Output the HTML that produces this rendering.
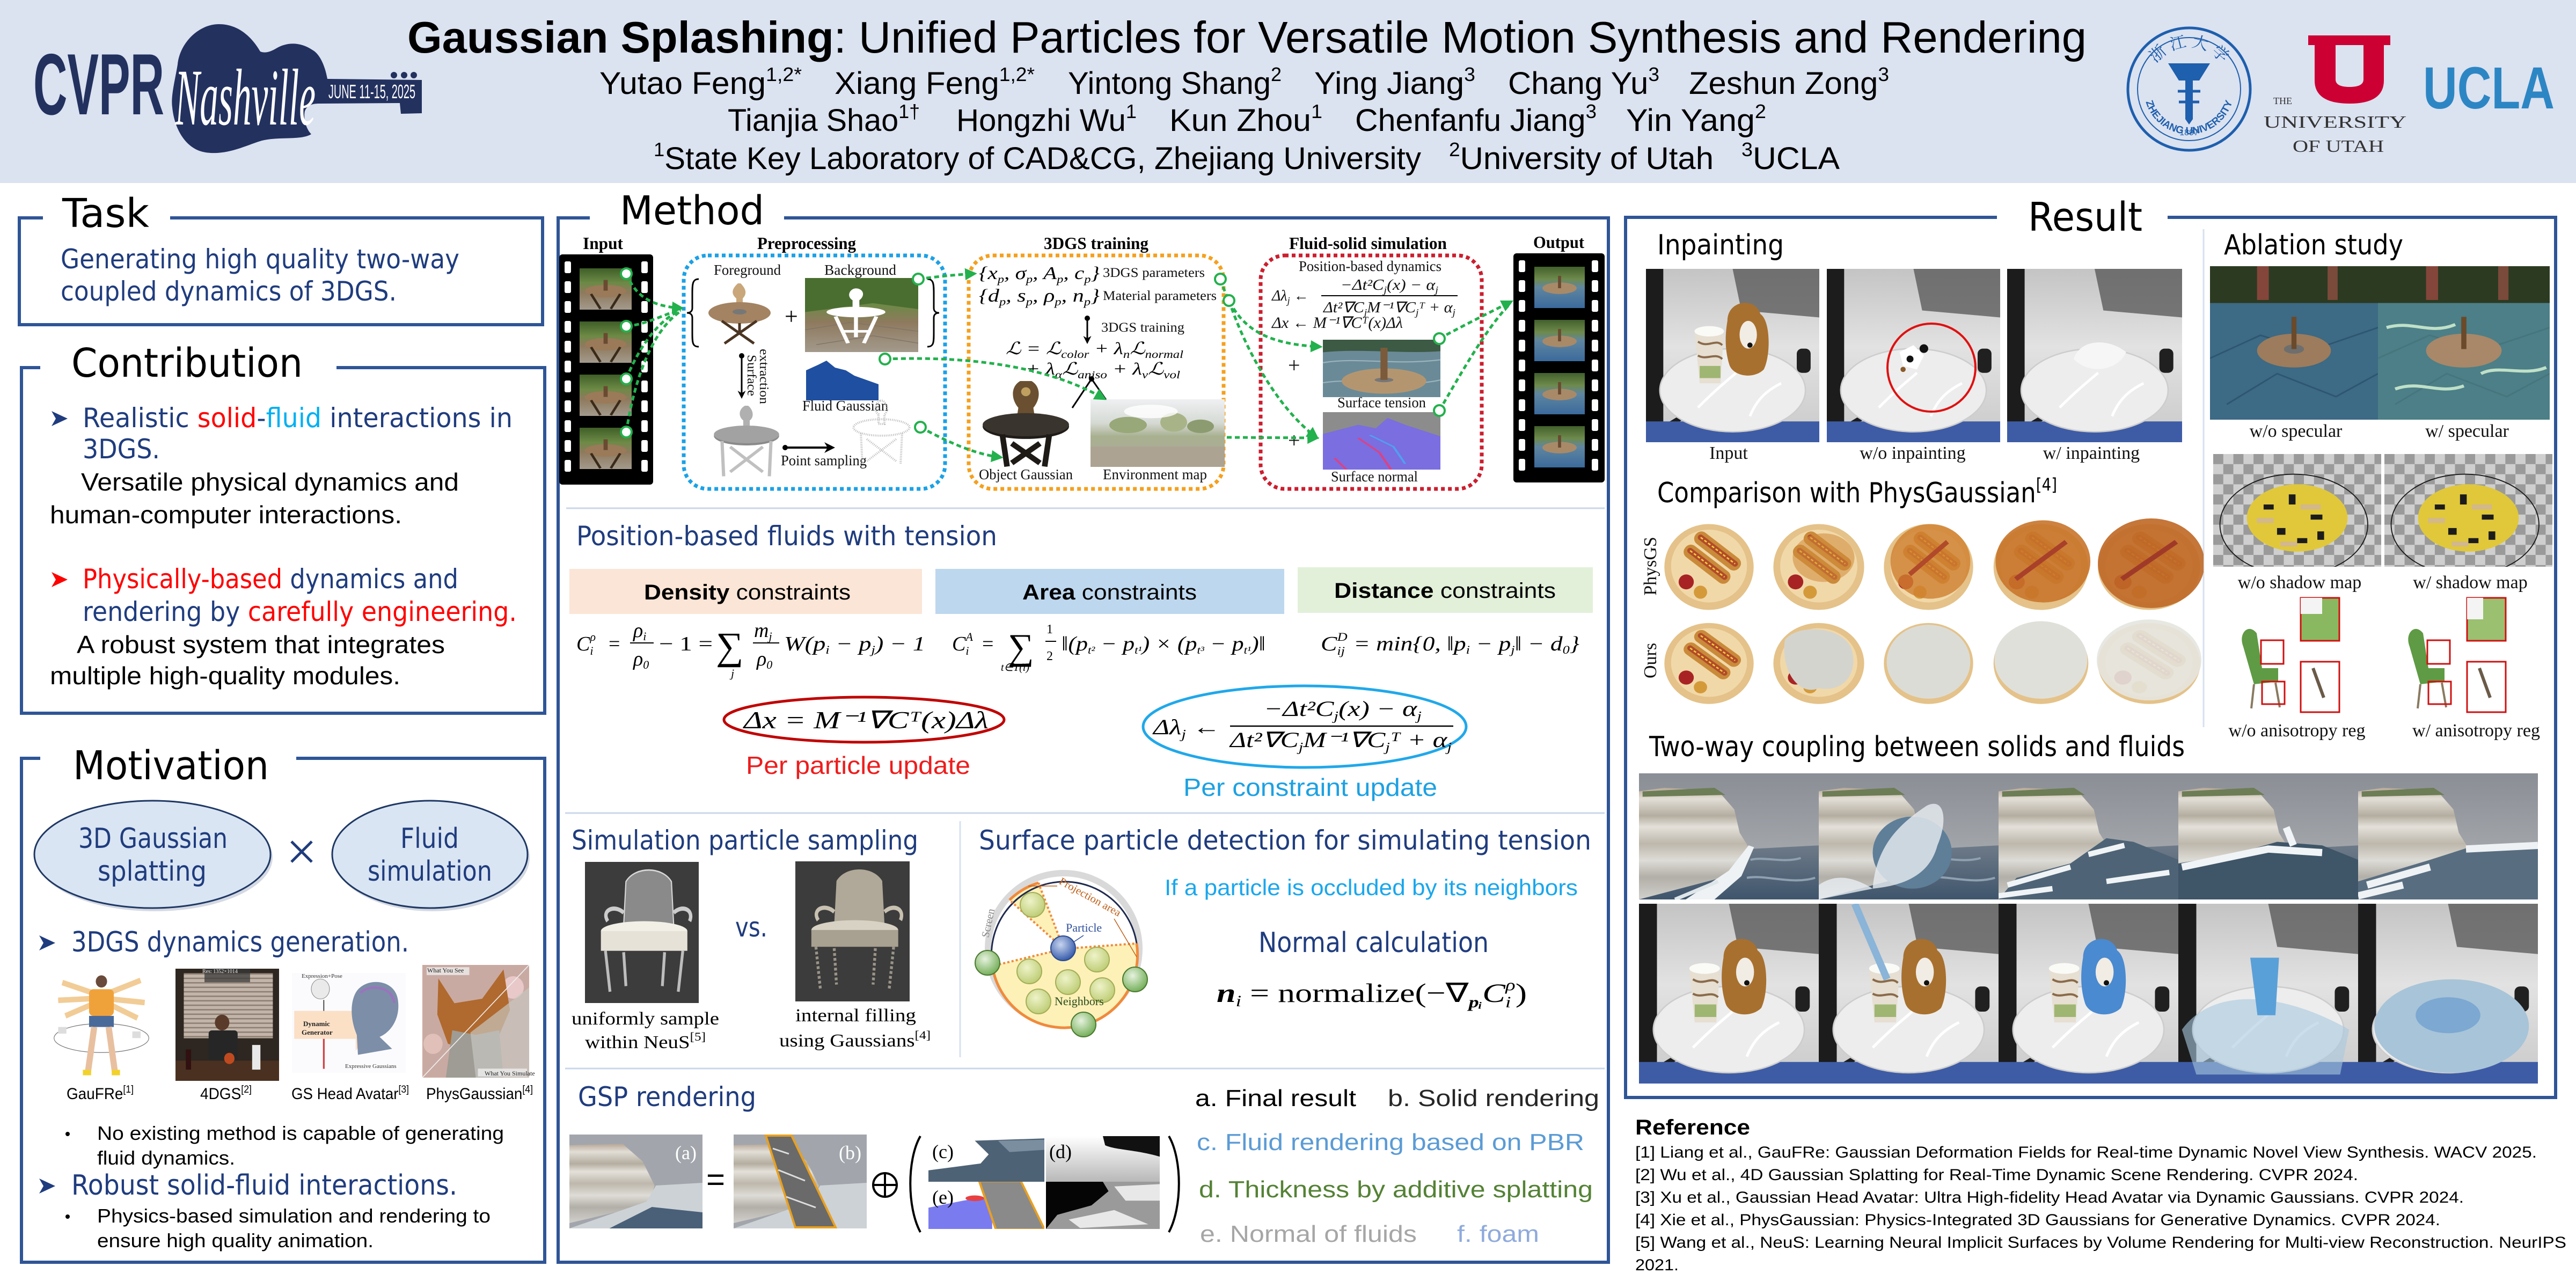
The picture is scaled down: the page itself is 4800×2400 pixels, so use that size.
<!DOCTYPE html>
<html><head><meta charset="utf-8">
<style>
html,body{margin:0;padding:0;background:#fff;width:4800px;height:2400px;overflow:hidden}
svg{display:block}
.c{font-family:"DejaVu Sans","Liberation Sans",sans-serif}
.s{font-family:"Liberation Sans",Arial,sans-serif}
.r{font-family:"Liberation Serif","Times New Roman",serif}
.i{font-style:italic}
.n{fill:#1f3c7e}
</style></head><body>
<svg xmlns="http://www.w3.org/2000/svg" xmlns:xlink="http://www.w3.org/1999/xlink" width="4800" height="2400" viewBox="0 0 4800 2400">
<defs>
<linearGradient id="gGarden" x1="0" y1="0" x2="0" y2="1"><stop offset="0" stop-color="#3f5e28"/><stop offset=".35" stop-color="#6c8a45"/><stop offset=".6" stop-color="#8e7a5e"/><stop offset="1" stop-color="#a39a8c"/></linearGradient>
<linearGradient id="gGardenW" x1="0" y1="0" x2="0" y2="1"><stop offset="0" stop-color="#42602c"/><stop offset=".3" stop-color="#6e8a4c"/><stop offset=".5" stop-color="#5f86a0"/><stop offset="1" stop-color="#3b6a9c"/></linearGradient>
<linearGradient id="gSky" x1="0" y1="0" x2="0" y2="1"><stop offset="0" stop-color="#8a8e95"/><stop offset="1" stop-color="#b2b4b7"/></linearGradient>
<linearGradient id="gCliff" x1="0" y1="0" x2="0" y2="1"><stop offset="0" stop-color="#b8a898"/><stop offset=".1" stop-color="#e2ded6"/><stop offset=".25" stop-color="#b4ada0"/><stop offset=".35" stop-color="#e4e1da"/><stop offset=".5" stop-color="#bdb7ac"/><stop offset=".65" stop-color="#dedcd6"/><stop offset=".8" stop-color="#b2afa8"/><stop offset="1" stop-color="#d2d0cc"/></linearGradient>
<linearGradient id="gWater" x1="0" y1="0" x2="0" y2="1"><stop offset="0" stop-color="#6e7a88"/><stop offset="1" stop-color="#3f556c"/></linearGradient>
<linearGradient id="gRoom" x1="0" y1="0" x2="0" y2="1"><stop offset="0" stop-color="#c4c4c4"/><stop offset=".45" stop-color="#e2e2e2"/><stop offset="1" stop-color="#c9c9c9"/></linearGradient>
<linearGradient id="gEnv" x1="0" y1="0" x2="0" y2="1"><stop offset="0" stop-color="#eef0f2"/><stop offset=".35" stop-color="#d6dad4"/><stop offset=".55" stop-color="#a8b090"/><stop offset="1" stop-color="#b0aa9c"/></linearGradient>
<linearGradient id="gThick" x1="0" y1="0" x2="0" y2="1"><stop offset="0" stop-color="#fff"/><stop offset="1" stop-color="#b8b8b8"/></linearGradient>
<radialGradient id="gPart" cx=".4" cy=".35" r=".7"><stop offset="0" stop-color="#c8d4ee"/><stop offset="1" stop-color="#2e55a8"/></radialGradient>
<radialGradient id="gNb" cx=".4" cy=".35" r=".7"><stop offset="0" stop-color="#eef3c8"/><stop offset="1" stop-color="#bccb72"/></radialGradient>
<radialGradient id="gNbo" cx=".4" cy=".35" r=".7"><stop offset="0" stop-color="#e6f2de"/><stop offset="1" stop-color="#6eab52"/></radialGradient>
<pattern id="pHoleI" x="1052" y="487" width="143" height="37" patternUnits="userSpaceOnUse"><rect width="12" height="22" rx="3" fill="#fff"/></pattern>
<pattern id="pHoleO" x="2830" y="485" width="136" height="37" patternUnits="userSpaceOnUse"><rect width="12" height="22" rx="3" fill="#fff"/></pattern>
<pattern id="pChk" width="12" height="12" patternUnits="userSpaceOnUse"><rect width="12" height="12" fill="#cfcfcf"/><rect width="6" height="6" fill="#9a9a9a"/><rect x="6" y="6" width="6" height="6" fill="#9a9a9a"/></pattern>
<pattern id="pBlind" width="10" height="4" patternUnits="userSpaceOnUse"><rect width="10" height="4" fill="#c2b4a8"/><rect width="10" height="1.2" fill="#8c7e72"/></pattern>
<marker id="mG" viewBox="0 0 10 10" refX="7" refY="5" markerWidth="4.5" markerHeight="4.5" orient="auto"><path d="M0,0 L10,5 L0,10 Z" fill="#23b14d"/></marker>
<marker id="mK" viewBox="0 0 10 10" refX="8" refY="5" markerWidth="5" markerHeight="5" orient="auto"><path d="M0,0 L10,5 L0,10 L3,5 Z" fill="#000"/></marker>

<g id="frI">
<rect width="100" height="100" fill="url(#gGarden)"/>
<ellipse cx="50" cy="55" rx="40" ry="15" fill="#9a7a58"/>
<rect x="46" y="28" width="8" height="26" fill="#6a4a30"/>
<path d="M22,62 L40,98 M78,62 L60,98" stroke="#3a2a1a" stroke-width="5"/>
</g>
<g id="frO">
<rect width="100" height="100" fill="url(#gGardenW)"/>
<ellipse cx="50" cy="52" rx="34" ry="14" fill="#a88a68"/>
<rect x="47" y="22" width="6" height="30" fill="#6a4a30"/>
</g>
<g id="cliff">
<rect width="100" height="70" fill="url(#gSky)"/>
<path d="M0,10 L14,8 L32,9 L46,12 L53,20 L56,33 L61,41 L57,55 L0,70 Z" fill="url(#gCliff)"/>
<path d="M2,10 L42,8 L48,12 L2,13Z" fill="#6d7d55"/>
<path d="M0,70 L57,55 L61,42 L100,40 L100,70Z" fill="url(#gWater)"/>
<path d="M62,48 C70,46 80,50 90,47 M60,58 C70,56 85,62 98,58" stroke="#8fa0b0" stroke-width="1.2" fill="none"/>
</g>
<g id="tbl">
<rect width="100" height="100" fill="url(#gRoom)"/>
<path d="M50,0 L100,0 L100,28 L55,24Z" fill="#4c4c4c" opacity=".7"/>
<rect x="0" y="0" width="10" height="100" fill="#1c1c1c"/>
<path d="M10,92 L40,74" stroke="#1c1c1c" stroke-width="3"/>
<rect x="0" y="88" width="100" height="12" fill="#3e5ca6"/>
<ellipse cx="50" cy="70" rx="42" ry="24" fill="#ededed" stroke="#cdcdcd" stroke-width=".8"/>
<path d="M30,80 C40,70 45,66 52,60 M60,85 C64,75 70,70 78,66" stroke="#fff" stroke-width="1.5" fill="none"/>
<rect x="87" y="46" width="8" height="14" rx="3" fill="#202020"/>
</g>
<g id="cup"><path d="M28,36 L45,36 L43,66 L31,66Z" fill="#e6dfd2"/><path d="M30,42 C36,46 40,40 44,44 M30,50 C35,53 40,48 44,52" stroke="#8a6a4a" stroke-width="1.2" fill="none"/><path d="M31,56 L43,56 L43,63 L31,63Z" fill="#9fb672"/><ellipse cx="36.5" cy="36" rx="8.5" ry="3" fill="#fafaf6"/></g>
<g id="dog"><path d="M47,30 C47,18 63,16 66,26 C72,30 72,50 68,58 C62,64 50,62 48,55 C45,45 46,36 47,30Z"/><ellipse cx="59" cy="38" rx="5" ry="8" fill="#f1ece4"/><circle cx="60" cy="44" r="1.5" fill="#111"/></g>
<g id="plate">
<ellipse cx="50" cy="52" rx="47" ry="46" fill="#e4c289"/>
<ellipse cx="50" cy="51" rx="40" ry="39" fill="#f1d8a8"/>
<g transform="rotate(38 55 40)"><rect x="26" y="26" width="58" height="15" rx="7" fill="#c98a3a"/><rect x="26" y="44" width="58" height="15" rx="7" fill="#c98a3a"/><rect x="29" y="30" width="52" height="6" rx="3" fill="#b24a2a"/><rect x="29" y="48" width="52" height="6" rx="3" fill="#b24a2a"/><path d="M32,33 L78,33 M32,51 L78,51" stroke="#f2d23a" stroke-width="1.5" stroke-dasharray="3 2"/></g>
<circle cx="26" cy="68" r="8" fill="#a82424"/><circle cx="41" cy="79" r="7" fill="#d49a3a"/>
</g>
<g id="abl">
<rect width="100" height="100" fill="#3d6a85"/>
<rect width="100" height="24" fill="#2c3a22"/>
<rect x="28" y="0" width="7" height="22" fill="#84463a"/><rect x="70" y="0" width="6" height="22" fill="#7a4a3a"/>
<path d="M0,60 L30,45 L60,55 L100,40 M10,90 L40,70 L75,85 L100,70" stroke="#2f5670" stroke-width="1" fill="none"/>
<ellipse cx="50" cy="55" rx="22" ry="11" fill="#9c7c5c"/>
<ellipse cx="50" cy="54" rx="6" ry="3" fill="#6e6e6e"/>
<rect x="48.5" y="33" width="3" height="21" fill="#6a4a2a"/>
</g>
<g id="shd">
<rect width="100" height="67" fill="url(#pChk)"/>
<ellipse cx="48" cy="42" rx="44" ry="30" fill="none" stroke="#1a1a1a" stroke-width=".6"/>
<ellipse cx="50" cy="38" rx="30" ry="20" fill="#e0c83a"/>
<g fill="#1c1c1c"><rect x="30" y="30" width="6" height="3"/><rect x="45" y="24" width="4" height="6"/><rect x="58" y="36" width="7" height="3"/><rect x="38" y="44" width="5" height="4"/><rect x="62" y="46" width="4" height="5"/><rect x="50" y="50" width="6" height="3"/></g>
<g fill="#d2b88a"><rect x="26" y="38" width="10" height="3"/><rect x="52" y="30" width="12" height="3"/><rect x="40" y="52" width="10" height="3"/></g>
</g>
</defs>

<!-- HEADER -->
<rect width="4800" height="341" fill="#dbe2f0"/>
<text x="62" y="213" class="s" font-weight="bold" font-size="162" fill="#23315f" textLength="244" lengthAdjust="spacingAndGlyphs">CVPR</text>
<path d="M408,45 C370,45 335,80 331,120 C326,150 318,180 321,200 C325,240 345,275 378,283 C420,292 460,270 488,262 C520,254 560,262 580,250 C570,240 565,220 568,207 C572,197 580,193 595,193 L745,192 L747,212 L786,211 L786,149 L610,147 C605,120 595,100 582,93 C560,78 535,78 515,90 C505,96 495,100 485,96 C470,70 445,45 408,45 Z" fill="#23315f"/>
<circle cx="734" cy="140" r="6" fill="#23315f"/><circle cx="753" cy="140" r="6" fill="#23315f"/><circle cx="771" cy="140" r="6" fill="#23315f"/>
<text x="326" y="232" class="r i" font-size="150" fill="#fff" textLength="262" lengthAdjust="spacingAndGlyphs">Nashville</text>
<text x="612" y="183" class="s" font-size="36" fill="#fff" textLength="162" lengthAdjust="spacingAndGlyphs">JUNE 11-15, 2025</text>

<text x="759" y="98" class="s" font-size="83" textLength="3129" lengthAdjust="spacingAndGlyphs"><tspan font-weight="bold">Gaussian Splashing</tspan>: Unified Particles for Versatile Motion Synthesis and Rendering</text>

<g class="s" font-size="58">
<text x="1117" y="175" textLength="377" lengthAdjust="spacingAndGlyphs">Yutao Feng<tspan font-size="36" dy="-24">1,2*</tspan></text>
<text x="1555" y="175" textLength="373" lengthAdjust="spacingAndGlyphs">Xiang Feng<tspan font-size="36" dy="-24">1,2*</tspan></text>
<text x="1990" y="175" textLength="398" lengthAdjust="spacingAndGlyphs">Yintong Shang<tspan font-size="36" dy="-24">2</tspan></text>
<text x="2449" y="175" textLength="300" lengthAdjust="spacingAndGlyphs">Ying Jiang<tspan font-size="36" dy="-24">3</tspan></text>
<text x="2810" y="175" textLength="282" lengthAdjust="spacingAndGlyphs">Chang Yu<tspan font-size="36" dy="-24">3</tspan></text>
<text x="3147" y="175" textLength="373" lengthAdjust="spacingAndGlyphs">Zeshun Zong<tspan font-size="36" dy="-24">3</tspan></text>
<text x="1356" y="244" textLength="358" lengthAdjust="spacingAndGlyphs">Tianjia Shao<tspan font-size="36" dy="-24">1†</tspan></text>
<text x="1782" y="244" textLength="336" lengthAdjust="spacingAndGlyphs">Hongzhi Wu<tspan font-size="36" dy="-24">1</tspan></text>
<text x="2179" y="244" textLength="285" lengthAdjust="spacingAndGlyphs">Kun Zhou<tspan font-size="36" dy="-24">1</tspan></text>
<text x="2525" y="244" textLength="450" lengthAdjust="spacingAndGlyphs">Chenfanfu Jiang<tspan font-size="36" dy="-24">3</tspan></text>
<text x="3030" y="244" textLength="261" lengthAdjust="spacingAndGlyphs">Yin Yang<tspan font-size="36" dy="-24">2</tspan></text>
<text x="1218" y="315" textLength="1430" lengthAdjust="spacingAndGlyphs"><tspan font-size="36" dy="-24">1</tspan><tspan dy="24">State Key Laboratory of CAD&amp;CG, Zhejiang University</tspan></text>
<text x="2700" y="315" textLength="493" lengthAdjust="spacingAndGlyphs"><tspan font-size="36" dy="-24">2</tspan><tspan dy="24">University of Utah</tspan></text>
<text x="3245" y="315" textLength="183" lengthAdjust="spacingAndGlyphs"><tspan font-size="36" dy="-24">3</tspan><tspan dy="24">UCLA</tspan></text>
</g>

<!-- ZJU seal -->
<circle cx="4079" cy="166" r="114" fill="none" stroke="#1e5fae" stroke-width="5"/>
<circle cx="4079" cy="166" r="96" fill="none" stroke="#1e5fae" stroke-width="2"/>
<path id="zjuB" d="M3995,166 A84,84 0 0 0 4163,166" fill="none"/>
<path id="zjuT" d="M4001,166 A78,78 0 0 1 4157,166" fill="none"/>
<text class="s" font-size="19" font-weight="bold" fill="#1e5fae"><textPath href="#zjuB" startOffset="50%" text-anchor="middle">ZHEJIANG UNIVERSITY</textPath></text>
<text font-family="'Noto Serif CJK SC','Noto Sans CJK SC',serif" font-size="30" fill="#1e5fae"><textPath href="#zjuT" startOffset="50%" text-anchor="middle">浙 江 大 学</textPath></text>
<path d="M4040,118 L4118,118 L4098,150 L4086,150 L4086,222 L4079,232 L4072,222 L4072,150 L4060,150 Z" fill="#1e5fae"/>
<path d="M4058,170 L4100,170 M4060,190 L4098,190" stroke="#1e5fae" stroke-width="5"/>
<text x="4079" y="252" class="s" font-size="16" fill="#1e5fae" text-anchor="middle">1897</text>

<!-- Utah -->
<path d="M4301,66 H4454 V84 H4442 V150 Q4442,193 4378,193 Q4313,193 4313,150 V84 H4301 Z M4352,84 V148 Q4352,162 4378,162 Q4404,162 4404,148 V84 Z" fill="#cc0033" fill-rule="evenodd"/>
<text x="4236" y="194" class="r" font-size="18" fill="#333">THE</text>
<text x="4218" y="238" class="r" font-size="32" fill="#333" textLength="266" lengthAdjust="spacingAndGlyphs">UNIVERSITY</text>
<text x="4272" y="283" class="r" font-size="32" fill="#333" textLength="170" lengthAdjust="spacingAndGlyphs">OF UTAH</text>
<text x="4515" y="202" class="s" font-size="110" font-weight="bold" fill="#2d86c4" textLength="245" lengthAdjust="spacingAndGlyphs">UCLA</text>

<!-- PANEL BORDERS -->
<g fill="none" stroke="#2f5597" stroke-width="6">
<path d="M317,406 H1011 V605 H36 V406 H80"/>
<path d="M627,685 H1015 V1329 H40 V685 H75"/>
<path d="M552,1413 H1015 V2352 H40 V1413 H75"/>
<path d="M1461,406 H2997 V2352 H1040 V406 H1099"/>
<path d="M4039,405 H4762 V2045 H3029 V405 H3721"/>
</g>
<g class="c" font-size="74" fill="#000">
<text x="116" y="423" textLength="162" lengthAdjust="spacingAndGlyphs">Task</text>
<text x="133" y="702" textLength="431" lengthAdjust="spacingAndGlyphs">Contribution</text>
<text x="136" y="1452" textLength="365" lengthAdjust="spacingAndGlyphs">Motivation</text>
<text x="1155" y="418" textLength="269" lengthAdjust="spacingAndGlyphs">Method</text>
<text x="3779" y="430" textLength="213" lengthAdjust="spacingAndGlyphs">Result</text>
</g>

<!-- TASK -->
<g class="c n" font-size="50">
<text x="113" y="500" textLength="743" lengthAdjust="spacingAndGlyphs">Generating high quality two-way</text>
<text x="113" y="560" textLength="626" lengthAdjust="spacingAndGlyphs">coupled dynamics of 3DGS.</text>
</g>

<!-- CONTRIBUTION -->
<path d="M96,766 L126,780 L96,794 L104,780 Z" fill="#1f3c7e"/>
<path d="M96,1066 L126,1080 L96,1094 L104,1080 Z" fill="#ff0000"/>
<g class="c" font-size="50">
<text x="154" y="796" textLength="801" lengthAdjust="spacingAndGlyphs"><tspan fill="#1f3c7e">Realistic </tspan><tspan fill="#ff0000">solid</tspan><tspan fill="#1f3c7e">-</tspan><tspan fill="#00b0f0">fluid</tspan><tspan fill="#1f3c7e"> interactions in</tspan></text>
<text x="154" y="854" fill="#1f3c7e" textLength="144" lengthAdjust="spacingAndGlyphs">3DGS.</text>
<text x="154" y="1096" textLength="700" lengthAdjust="spacingAndGlyphs"><tspan fill="#ff0000">Physically-based</tspan><tspan fill="#1f3c7e"> dynamics and</tspan></text>
<text x="154" y="1157" textLength="809" lengthAdjust="spacingAndGlyphs"><tspan fill="#1f3c7e">rendering by </tspan><tspan fill="#ff0000">carefully engineering.</tspan></text>
</g>
<g class="s" font-size="46" fill="#000">
<text x="151" y="914" textLength="704" lengthAdjust="spacingAndGlyphs">Versatile physical dynamics and</text>
<text x="93" y="975" textLength="656" lengthAdjust="spacingAndGlyphs">human-computer interactions.</text>
<text x="143" y="1217" textLength="686" lengthAdjust="spacingAndGlyphs">A robust system that integrates</text>
<text x="93" y="1275" textLength="653" lengthAdjust="spacingAndGlyphs">multiple high-quality modules.</text>
</g>

<!-- MOTIVATION -->
<ellipse cx="288" cy="1598" rx="220" ry="100" fill="#b8c0d0" opacity=".6"/>
<ellipse cx="284" cy="1592" rx="220" ry="100" fill="#dae5f3" stroke="#1f3864" stroke-width="3"/>
<ellipse cx="805" cy="1598" rx="182" ry="100" fill="#b8c0d0" opacity=".6"/>
<ellipse cx="801" cy="1592" rx="182" ry="100" fill="#dae5f3" stroke="#1f3864" stroke-width="3"/>
<g class="c n" font-size="52">
<text x="146" y="1580" textLength="278" lengthAdjust="spacingAndGlyphs">3D Gaussian</text>
<text x="182" y="1641" textLength="203" lengthAdjust="spacingAndGlyphs">splatting</text>
<text x="746" y="1580" textLength="109" lengthAdjust="spacingAndGlyphs">Fluid</text>
<text x="685" y="1641" textLength="232" lengthAdjust="spacingAndGlyphs">simulation</text>
<text x="133" y="1773" textLength="629" lengthAdjust="spacingAndGlyphs">3DGS dynamics generation.</text>
<text x="133" y="2226" textLength="719" lengthAdjust="spacingAndGlyphs">Robust solid-fluid interactions.</text>
</g>
<path d="M543,1568 L581,1606 M581,1568 L543,1606" stroke="#1f3c7e" stroke-width="5"/>
<path d="M73,1743 L103,1757 L73,1771 L81,1757 Z" fill="#1f3c7e"/>
<path d="M73,2196 L103,2210 L73,2224 L81,2210 Z" fill="#1f3c7e"/>

<svg x="93" y="1806" width="192" height="207" viewBox="0 0 100 100" preserveAspectRatio="none">
<rect width="100" height="100" fill="#fff"/>
<ellipse cx="50" cy="62" rx="46" ry="13" fill="none" stroke="#777" stroke-width=".6"/>
<path d="M12,12 L50,24 L88,10 M8,28 L50,26 L92,30 M15,42 L50,28 L85,44" stroke="#f2cc96" stroke-width="5" fill="none"/>
<rect x="38" y="18" width="24" height="24" rx="4" fill="#f0a23a"/>
<circle cx="50" cy="11" r="5.5" fill="#6a4a3a"/>
<rect x="38" y="42" width="24" height="10" fill="#4a6a9a"/>
<path d="M43,52 L37,92 M57,52 L63,92" stroke="#e8c0a0" stroke-width="6"/>
<path d="M32,93 L40,93 M60,93 L68,93" stroke="#f2d22a" stroke-width="5"/>
<rect x="8" y="52" width="8" height="6" fill="#ddd"/><rect x="80" y="56" width="8" height="6" fill="#ddd"/>
</svg>
<svg x="327" y="1805" width="193" height="209" viewBox="0 0 100 100" preserveAspectRatio="none">
<rect width="100" height="100" fill="#2e2620"/>
<rect x="8" y="4" width="86" height="58" fill="url(#pBlind)"/>
<rect x="28" y="0" width="44" height="12" fill="#3a3a3a" opacity=".75"/>
<circle cx="45" cy="48" r="7" fill="#5a3a2a"/>
<rect x="32" y="55" width="28" height="32" rx="3" fill="#262626"/>
<rect x="0" y="82" width="100" height="18" fill="#4a3020"/>
<rect x="10" y="72" width="5" height="18" fill="#301010"/><rect x="74" y="68" width="8" height="22" fill="#e8e8e8"/>
<circle cx="52" cy="80" r="5" fill="#c04a20"/>
</svg>
<text x="377" y="1813" class="r" font-size="10" fill="#eee">Res: 1352×1014</text>
<svg x="544" y="1813" width="212" height="186" viewBox="0 0 100 100" preserveAspectRatio="none">
<rect width="100" height="100" fill="#fbfbfd"/>
<path d="M2,38 L56,38 L56,26 L72,52 L56,78 L56,66 L2,66Z" fill="#fbe0c6"/>
<ellipse cx="25" cy="16" rx="8" ry="10" fill="#eaeaea" stroke="#888" stroke-width=".5"/>
<path d="M28,27 L28,38" stroke="#333" stroke-width=".8"/>
<path d="M28,66 L28,96" stroke="#d04040" stroke-width="1.5"/>
<path d="M57,18 C66,4 90,6 93,26 C96,46 86,60 77,64 L88,76 L58,82 L57,62 C51,46 51,28 57,18Z" fill="#7c8ea8"/>
<path d="M60,20 C70,10 88,14 90,30" stroke="#a070c0" stroke-width="2" fill="none"/>
</svg>
<text x="562" y="1822" class="r" font-size="11" fill="#333">Expression+Pose</text>
<text x="565" y="1912" class="r" font-size="13" font-weight="bold" fill="#222">Dynamic</text>
<text x="562" y="1928" class="r" font-size="13" font-weight="bold" fill="#222">Generator</text>
<text x="643" y="1990" class="r" font-size="11" fill="#333">Expressive Gaussians</text>
<svg x="787" y="1798" width="199" height="210" viewBox="0 0 100 100" preserveAspectRatio="none">
<rect width="100" height="100" fill="#c9aaa2"/>
<circle cx="85" cy="20" r="10" fill="#e8c8c8"/><circle cx="10" cy="70" r="9" fill="#e0c0b8"/>
<path d="M15,12 L30,34 L56,30 L76,4 L82,40 L72,62 L50,76 L24,70 L14,44Z" fill="#b0692e"/>
<path d="M28,58 L50,62 L72,58 L76,100 L22,100Z" fill="#9e9c94"/>
<path d="M45,60 L100,20 L100,100 L50,100Z" fill="#c8c6c0" opacity=".7"/>
<path d="M0,100 L100,0" stroke="#eee" stroke-width=".8"/>
<rect x="4" y="2" width="40" height="7" fill="#eee" opacity=".8"/><rect x="52" y="92" width="46" height="7" fill="#eee" opacity=".8"/>
</svg>
<text x="796" y="1812" class="r" font-size="12" fill="#222">What You See</text>
<text x="903" y="2004" class="r" font-size="12" fill="#222">What You Simulate</text>

<g class="s" font-size="30" fill="#000">
<text x="124" y="2048" textLength="125" lengthAdjust="spacingAndGlyphs">GauFRe<tspan font-size="19" dy="-12">[1]</tspan></text>
<text x="373" y="2048" textLength="96" lengthAdjust="spacingAndGlyphs">4DGS<tspan font-size="19" dy="-12">[2]</tspan></text>
<text x="543" y="2048" textLength="219" lengthAdjust="spacingAndGlyphs">GS Head Avatar<tspan font-size="19" dy="-12">[3]</tspan></text>
<text x="794" y="2048" textLength="199" lengthAdjust="spacingAndGlyphs">PhysGaussian<tspan font-size="19" dy="-12">[4]</tspan></text>
</g>
<g class="s" font-size="36" fill="#000">
<circle cx="126" cy="2113" r="4"/>
<circle cx="126" cy="2267" r="4"/>
<text x="181" y="2124" textLength="758" lengthAdjust="spacingAndGlyphs">No existing method is capable of generating</text>
<text x="181" y="2170" textLength="257" lengthAdjust="spacingAndGlyphs">fluid dynamics.</text>
<text x="181" y="2278" textLength="733" lengthAdjust="spacingAndGlyphs">Physics-based simulation and rendering to</text>
<text x="181" y="2324" textLength="515" lengthAdjust="spacingAndGlyphs">ensure high quality animation.</text>
</g>

<!-- METHOD PIPELINE -->
<g class="r" font-size="32" font-weight="bold">
<text x="1086" y="464" textLength="75" lengthAdjust="spacingAndGlyphs">Input</text>
<text x="1411" y="464" textLength="184" lengthAdjust="spacingAndGlyphs">Preprocessing</text>
<text x="1945" y="464" textLength="195" lengthAdjust="spacingAndGlyphs">3DGS training</text>
<text x="2402" y="464" textLength="294" lengthAdjust="spacingAndGlyphs">Fluid-solid simulation</text>
<text x="2857" y="462" textLength="95" lengthAdjust="spacingAndGlyphs">Output</text>
</g>
<rect x="1042" y="474" width="175" height="429" rx="6" fill="#000"/>
<rect x="1052" y="487" width="155" height="405" fill="url(#pHoleI)"/>
<svg x="1080" y="500" width="97" height="77" viewBox="0 0 100 100" preserveAspectRatio="none"><use href="#frI"/></svg>
<svg x="1080" y="599" width="97" height="77" viewBox="0 0 100 100" preserveAspectRatio="none"><use href="#frI"/></svg>
<svg x="1080" y="698" width="97" height="77" viewBox="0 0 100 100" preserveAspectRatio="none"><use href="#frI"/></svg>
<svg x="1080" y="797" width="97" height="77" viewBox="0 0 100 100" preserveAspectRatio="none"><use href="#frI"/></svg>
<rect x="2820" y="472" width="170" height="427" rx="6" fill="#000"/>
<rect x="2830" y="485" width="148" height="405" fill="url(#pHoleO)"/>
<svg x="2859" y="497" width="94" height="77" viewBox="0 0 100 100" preserveAspectRatio="none"><use href="#frO"/></svg>
<svg x="2859" y="596" width="94" height="77" viewBox="0 0 100 100" preserveAspectRatio="none"><use href="#frO"/></svg>
<svg x="2859" y="695" width="94" height="77" viewBox="0 0 100 100" preserveAspectRatio="none"><use href="#frO"/></svg>
<svg x="2859" y="794" width="94" height="77" viewBox="0 0 100 100" preserveAspectRatio="none"><use href="#frO"/></svg>

<rect x="1274" y="476" width="487" height="435" rx="45" fill="none" stroke="#1ba1e6" stroke-width="7" stroke-dasharray="7 6"/>
<rect x="1805" y="476" width="475" height="435" rx="45" fill="none" stroke="#f5a01e" stroke-width="7" stroke-dasharray="7 6"/>
<rect x="2349" y="476" width="412" height="435" rx="45" fill="none" stroke="#cc1e2e" stroke-width="7" stroke-dasharray="7 6"/>

<!-- preprocessing -->
<g class="r" font-size="27" fill="#111">
<text x="1330" y="512" textLength="125" lengthAdjust="spacingAndGlyphs">Foreground</text>
<text x="1536" y="512" textLength="134" lengthAdjust="spacingAndGlyphs">Background</text>
<text x="1495" y="765" textLength="160" lengthAdjust="spacingAndGlyphs">Fluid Gaussian</text>
<text x="1455" y="867" textLength="160" lengthAdjust="spacingAndGlyphs">Point sampling</text>
<text transform="translate(1393,661) rotate(90)" font-size="24" textLength="77" lengthAdjust="spacingAndGlyphs">Surface</text>
<text transform="translate(1416,650) rotate(90)" font-size="24" textLength="103" lengthAdjust="spacingAndGlyphs">extraction</text>
</g>
<path d="M1302,520 C1290,520 1290,530 1290,548 L1290,574 C1290,580 1286,583 1280,583 C1286,583 1290,586 1290,592 L1290,620 C1290,638 1290,646 1302,646" stroke="#000" stroke-width="3" fill="none"/>
<path d="M1728,520 C1740,520 1740,530 1740,548 L1740,574 C1740,580 1744,583 1750,583 C1744,583 1740,586 1740,592 L1740,620 C1740,638 1740,646 1728,646" stroke="#000" stroke-width="3" fill="none"/>
<path d="M1375,528 C1366,536 1360,546 1372,556 L1372,572 L1384,572 L1384,556 C1394,546 1388,536 1380,528Z" fill="#c9a77a"/>
<ellipse cx="1378" cy="583" rx="58" ry="20" fill="#a38362"/>
<ellipse cx="1378" cy="581" rx="13" ry="5" fill="#777"/>
<path d="M1345,598 L1405,640 M1410,598 L1350,640 M1378,602 L1378,622" stroke="#4a3422" stroke-width="5"/>
<text x="1462" y="604" class="r" font-size="44">+</text>
<svg x="1500" y="518" width="211" height="138" viewBox="0 0 100 100" preserveAspectRatio="none">
<rect width="100" height="100" fill="url(#gGarden)"/>
<path d="M0,0 H100 V42 L60,34 L0,46Z" fill="#4a6e30"/>
<path d="M0,70 L40,60 L100,72 M10,90 L60,78 L100,88" stroke="#807468" stroke-width="1" fill="none"/>
<path d="M42,30 C36,24 40,14 45,14 C51,14 54,23 48,30 L48,42 L42,42Z" fill="#fff"/>
<ellipse cx="45" cy="46" rx="26" ry="7" fill="#fff"/>
<path d="M27,52 L38,88 M63,52 L52,88 M32,72 L58,72 M45,52 L45,80" stroke="#fff" stroke-width="3.5"/>
</svg>
<circle cx="1382" cy="663" r="5" fill="#000"/>
<path d="M1382,663 L1382,740" stroke="#000" stroke-width="3" marker-end="url(#mK)"/>
<path d="M1502,746 L1502,690 L1524,680 L1540,672 L1556,685 L1576,690 L1592,700 L1637,716 L1637,746 Z" fill="#1f4fa0"/>
<svg x="1315" y="756" width="152" height="137" viewBox="0 0 100 100" preserveAspectRatio="none">
<path d="M48,0 C40,5 40,15 46,20 L46,35 L54,35 L54,20 C60,15 58,5 52,0Z" fill="#b0b0b0"/>
<ellipse cx="50" cy="41" rx="40" ry="13" fill="#8a8a8a"/>
<ellipse cx="50" cy="39" rx="40" ry="12" fill="#a2a2a2"/>
<path d="M20,48 L22,96 M80,48 L78,96 M30,56 L70,90 M70,56 L30,90" stroke="#c0c0c0" stroke-width="4"/>
</svg>
<circle cx="1463" cy="834" r="5" fill="#000"/>
<path d="M1463,834 L1552,834" stroke="#000" stroke-width="4" marker-end="url(#mK)"/>
<svg x="1574" y="744" width="137" height="128" viewBox="0 0 100 100" preserveAspectRatio="none">
<g stroke="#bdbdbd" stroke-width="3" stroke-dasharray="1 1.5" fill="none">
<path d="M48,2 C40,7 40,17 46,22 L46,36 L54,36 L54,22 C60,17 58,7 52,2Z"/>
<ellipse cx="50" cy="41" rx="38" ry="12"/>
<path d="M22,50 L24,94 M78,50 L76,94 M30,58 L70,90 M70,58 L30,90"/>
</g>
</svg>

<!-- 3DGS training -->
<g class="r i" fill="#000">
<text x="1824" y="520" font-size="34" textLength="225" lengthAdjust="spacingAndGlyphs">{x<tspan font-size="20" dy="7">p</tspan><tspan dy="-7">, σ</tspan><tspan font-size="20" dy="7">p</tspan><tspan dy="-7">, A</tspan><tspan font-size="20" dy="7">p</tspan><tspan dy="-7">, c</tspan><tspan font-size="20" dy="7">p</tspan><tspan dy="-7">}</tspan></text>
<text x="1824" y="562" font-size="34" textLength="225" lengthAdjust="spacingAndGlyphs">{d<tspan font-size="20" dy="7">p</tspan><tspan dy="-7">, s</tspan><tspan font-size="20" dy="7">p</tspan><tspan dy="-7">, ρ</tspan><tspan font-size="20" dy="7">p</tspan><tspan dy="-7">, n</tspan><tspan font-size="20" dy="7">p</tspan><tspan dy="-7">}</tspan></text>
<text x="1874" y="660" font-size="32" textLength="331" lengthAdjust="spacingAndGlyphs">ℒ = ℒ<tspan font-size="20" dy="7">color</tspan><tspan dy="-7"> + λ</tspan><tspan font-size="20" dy="7">n</tspan><tspan dy="-7">ℒ</tspan><tspan font-size="20" dy="7">normal</tspan></text>
<text x="1911" y="698" font-size="32" textLength="288" lengthAdjust="spacingAndGlyphs">+ λ<tspan font-size="20" dy="7">α</tspan><tspan dy="-7">ℒ</tspan><tspan font-size="20" dy="7">aniso</tspan><tspan dy="-7"> + λ</tspan><tspan font-size="20" dy="7">v</tspan><tspan dy="-7">ℒ</tspan><tspan font-size="20" dy="7">vol</tspan></text>
</g>
<g class="r" font-size="25" fill="#111">
<text x="2055" y="516" textLength="190" lengthAdjust="spacingAndGlyphs">3DGS parameters</text>
<text x="2055" y="559" textLength="212" lengthAdjust="spacingAndGlyphs">Material parameters</text>
<text x="2052" y="618" textLength="155" lengthAdjust="spacingAndGlyphs">3DGS training</text>
<text x="1824" y="893" font-size="27" textLength="175" lengthAdjust="spacingAndGlyphs">Object Gaussian</text>
<text x="2055" y="893" font-size="27" textLength="194" lengthAdjust="spacingAndGlyphs">Environment map</text>
</g>
<circle cx="2026" cy="593" r="5" fill="#000"/>
<path d="M2026,593 L2026,638" stroke="#000" stroke-width="3" marker-end="url(#mK)"/>
<circle cx="2034" cy="706" r="5" fill="#000"/>
<path d="M2034,706 L1998,760 M2034,706 L2070,758" stroke="#000" stroke-width="3" marker-end="url(#mK)"/>
<svg x="1824" y="710" width="175" height="166" viewBox="0 0 100 100" preserveAspectRatio="none">
<path d="M44,0 C34,6 34,20 42,30 L40,44 L60,44 L58,30 C66,20 66,6 56,0Z" fill="#6a5030"/>
<circle cx="50" cy="12" r="5" fill="#c0a060"/>
<ellipse cx="50" cy="51" rx="46" ry="14" fill="#201c18"/>
<ellipse cx="50" cy="49" rx="46" ry="13" fill="#3a342e"/>
<path d="M25,60 L30,96 M75,60 L70,96 M35,70 L65,92 M65,70 L35,92" stroke="#1e1a16" stroke-width="6"/>
</svg>
<svg x="2032" y="744" width="250" height="126" viewBox="0 0 100 100" preserveAspectRatio="none">
<rect width="100" height="100" fill="url(#gEnv)"/>
<ellipse cx="28" cy="38" rx="14" ry="12" fill="#98a878"/><ellipse cx="62" cy="34" rx="10" ry="14" fill="#a8b488"/><ellipse cx="82" cy="40" rx="10" ry="10" fill="#8c9c70"/>
<ellipse cx="45" cy="18" rx="20" ry="10" fill="#fff" opacity=".8"/>
<rect y="70" width="100" height="30" fill="#aca392"/>
</svg>

<!-- fluid-solid -->
<g class="r" fill="#111">
<text x="2420" y="505" font-size="27" textLength="266" lengthAdjust="spacingAndGlyphs">Position-based dynamics</text>
<text x="2370" y="560" font-size="28" class="r i">Δλ<tspan font-size="18" dy="6">j</tspan><tspan dy="-6"> ←</tspan></text>
<text x="2498" y="540" font-size="28" class="r i" textLength="182" lengthAdjust="spacingAndGlyphs">−Δt²C<tspan font-size="18" dy="6">j</tspan><tspan dy="-6">(x) − α</tspan><tspan font-size="18" dy="6">j</tspan></text>
<text x="2466" y="582" font-size="28" class="r i" textLength="246" lengthAdjust="spacingAndGlyphs">Δt²∇C<tspan font-size="18" dy="6">j</tspan><tspan dy="-6">M⁻¹∇C</tspan><tspan font-size="18" dy="6">j</tspan><tspan dy="-6">ᵀ + α</tspan><tspan font-size="18" dy="6">j</tspan></text>
<text x="2370" y="611" font-size="30" class="r i" textLength="244" lengthAdjust="spacingAndGlyphs">Δx ← M⁻¹∇Cᵀ(x)Δλ</text>
<text x="2492" y="759" font-size="27" textLength="165" lengthAdjust="spacingAndGlyphs">Surface tension</text>
<text x="2480" y="897" font-size="27" textLength="162" lengthAdjust="spacingAndGlyphs">Surface normal</text>
<text x="2400" y="694" font-size="40">+</text>
<text x="2400" y="834" font-size="40">+</text>
</g>
<path d="M2462,551 L2716,551" stroke="#000" stroke-width="2"/>
<svg x="2465" y="633" width="219" height="107" viewBox="0 0 100 100" preserveAspectRatio="none">
<rect width="100" height="100" fill="#6a8a98"/>
<path d="M0,0 H100 V20 C70,25 30,15 0,22Z" fill="#3c5a44"/>
<path d="M0,40 C30,30 60,45 100,35 M0,75 C30,65 70,85 100,70" stroke="#9ab4bc" stroke-width="2" fill="none"/>
<ellipse cx="52" cy="72" rx="36" ry="22" fill="#b39670"/>
<ellipse cx="52" cy="70" rx="8" ry="4" fill="#777"/>
<rect x="49" y="14" width="6" height="56" fill="#7a5a3a"/>
</svg>
<svg x="2465" y="768" width="219" height="107" viewBox="0 0 100 100" preserveAspectRatio="none">
<rect width="100" height="100" fill="#8c8c8c"/>
<path d="M0,38 L30,22 L45,28 L55,10 L70,22 L100,42 L100,100 L0,100Z" fill="#7a6ee0"/>
<path d="M30,45 L48,70 L58,100 M10,80 L20,100" stroke="#e04080" stroke-width="2" fill="none"/>
<path d="M40,40 L60,60 L70,90" stroke="#50a0f0" stroke-width="2" fill="none"/>
</svg>

<!-- green connectors -->
<g fill="none" stroke="#23b14d" stroke-width="5" stroke-dasharray="9 6">
<path d="M1167,510 C1180,540 1200,570 1268,574" marker-end="url(#mG)"/>
<path d="M1167,608 C1200,605 1230,590 1268,576"/>
<path d="M1167,706 C1185,660 1220,600 1268,578"/>
<path d="M1167,805 C1180,720 1210,620 1268,580"/>
<path d="M1711,520 C1750,515 1780,512 1814,510" marker-end="url(#mG)"/>
<path d="M2274,520 C2300,600 2340,640 2458,646" marker-end="url(#mG)"/>
<path d="M2290,560 C2320,650 2380,760 2452,814" marker-end="url(#mG)"/>
<path d="M1649,669 C1760,665 1930,670 2056,742" marker-end="url(#mG)"/>
<path d="M1715,796 C1760,820 1810,845 1863,852" marker-end="url(#mG)"/>
<path d="M2286,815 L2452,816" marker-end="url(#mG)"/>
<path d="M2682,631 C2720,610 2770,585 2814,563" marker-end="url(#mG)"/>
<path d="M2682,765 C2720,700 2770,610 2814,566"/>
</g>
<g fill="#fff" stroke="#23b14d" stroke-width="4">
<circle cx="1167" cy="510" r="10"/><circle cx="1167" cy="608" r="10"/><circle cx="1167" cy="706" r="10"/><circle cx="1167" cy="805" r="10"/>
<circle cx="1711" cy="520" r="10"/><circle cx="2274" cy="520" r="10"/><circle cx="2290" cy="560" r="10"/>
<circle cx="1649" cy="669" r="10"/><circle cx="1715" cy="796" r="10"/><circle cx="2682" cy="631" r="10"/><circle cx="2682" cy="765" r="10"/>
</g>

<!-- POSITION-BASED FLUIDS -->
<path d="M1055,947 H2990" stroke="#c9d7ea" stroke-width="3"/>
<text x="1074" y="1016" class="c n" font-size="50" textLength="784" lengthAdjust="spacingAndGlyphs">Position-based fluids with tension</text>
<rect x="1061" y="1060" width="657" height="84" fill="#fbe5d6"/>
<rect x="1743" y="1060" width="650" height="84" fill="#bdd7ee"/>
<rect x="2418" y="1057" width="550" height="85" fill="#e2f0d9"/>
<g class="s" font-size="40" fill="#000">
<text x="1200" y="1117" textLength="385" lengthAdjust="spacingAndGlyphs"><tspan font-weight="bold">Density</tspan> constraints</text>
<text x="1905" y="1117" textLength="325" lengthAdjust="spacingAndGlyphs"><tspan font-weight="bold">Area</tspan> constraints</text>
<text x="2486" y="1114" textLength="413" lengthAdjust="spacingAndGlyphs"><tspan font-weight="bold">Distance</tspan> constraints</text>
</g>
<g class="r" fill="#000" font-size="38">
<text x="1074" y="1212" class="i">C<tspan font-size="22" dy="8">i</tspan><tspan font-size="22" dx="-6" dy="-26">ρ</tspan></text>
<text x="1134" y="1212">=</text>
<text x="1180" y="1187" class="i">ρ<tspan font-size="22" dy="6">i</tspan></text>
<text x="1180" y="1240" class="i">ρ<tspan font-size="22" dy="6">0</tspan></text>
<text x="1228" y="1212" textLength="100" lengthAdjust="spacingAndGlyphs">− 1 =</text>
<text x="1334" y="1228" font-size="72">∑</text>
<text x="1362" y="1262" class="i" font-size="22">j</text>
<text x="1405" y="1187" class="i">m<tspan font-size="22" dy="6">j</tspan></text>
<text x="1410" y="1240" class="i">ρ<tspan font-size="22" dy="6">0</tspan></text>
<text x="1461" y="1212" class="i" textLength="263" lengthAdjust="spacingAndGlyphs">W(p<tspan font-size="22" dy="6">i</tspan><tspan dy="-6"> − p</tspan><tspan font-size="22" dy="6">j</tspan><tspan dy="-6">) − 1</tspan></text>
<text x="1774" y="1212" class="i">C<tspan font-size="22" dy="8">i</tspan><tspan font-size="22" dx="-6" dy="-26">A</tspan></text>
<text x="1830" y="1212">=</text>
<text x="1878" y="1228" font-size="68">∑</text>
<text x="1865" y="1250" class="i" font-size="20">t∈T(i)</text>
<text x="1950" y="1180" font-size="24">1</text>
<text x="1950" y="1230" font-size="24">2</text>
<text x="1978" y="1212" class="i" textLength="380" lengthAdjust="spacingAndGlyphs">‖(p<tspan font-size="20" dy="6">t²</tspan><tspan dy="-6"> − p</tspan><tspan font-size="20" dy="6">t¹</tspan><tspan dy="-6">) × (p</tspan><tspan font-size="20" dy="6">t³</tspan><tspan dy="-6"> − p</tspan><tspan font-size="20" dy="6">t¹</tspan><tspan dy="-6">)‖</tspan></text>
<text x="2461" y="1212" class="i" textLength="482" lengthAdjust="spacingAndGlyphs">C<tspan font-size="22" dy="8">ij</tspan><tspan font-size="22" dx="-12" dy="-26">D</tspan><tspan dy="18"> = min{0, ‖p</tspan><tspan font-size="22" dy="6">i</tspan><tspan dy="-6"> − p</tspan><tspan font-size="22" dy="6">j</tspan><tspan dy="-6">‖ − d</tspan><tspan font-size="22" dy="6">0</tspan><tspan dy="-6">}</tspan></text>
</g>
<path d="M1174,1198 H1218 M1403,1198 H1452 M1948,1195 H1968" stroke="#000" stroke-width="2"/>

<ellipse cx="1610" cy="1341" rx="261" ry="42" fill="none" stroke="#c00000" stroke-width="5"/>
<text x="1386" y="1357" class="r i" font-size="46" textLength="456" lengthAdjust="spacingAndGlyphs">Δx = M⁻¹∇Cᵀ(x)Δλ</text>
<text x="1390" y="1442" class="s" font-size="46" fill="#ee1c1c" textLength="418" lengthAdjust="spacingAndGlyphs">Per particle update</text>
<ellipse cx="2431" cy="1354" rx="301" ry="76" fill="none" stroke="#20a8ea" stroke-width="5"/>
<g class="r i" font-size="40" fill="#000">
<text x="2149" y="1368" textLength="125" lengthAdjust="spacingAndGlyphs">Δλ<tspan font-size="24" dy="8">j</tspan><tspan dy="-8"> ←</tspan></text>
<text x="2355" y="1334" textLength="294" lengthAdjust="spacingAndGlyphs">−Δt²C<tspan font-size="24" dy="8">j</tspan><tspan dy="-8">(x) − α</tspan><tspan font-size="24" dy="8">j</tspan></text>
<text x="2292" y="1392" textLength="413" lengthAdjust="spacingAndGlyphs">Δt²∇C<tspan font-size="24" dy="8">j</tspan><tspan dy="-8">M⁻¹∇C</tspan><tspan font-size="24" dy="8">j</tspan><tspan dy="-8">ᵀ + α</tspan><tspan font-size="24" dy="8">j</tspan></text>
</g>
<path d="M2292,1353 H2708" stroke="#000" stroke-width="2.5"/>
<text x="2205" y="1483" class="s" font-size="46" fill="#1da1e2" textLength="473" lengthAdjust="spacingAndGlyphs">Per constraint update</text>

<!-- SAMPLING + SURFACE -->
<path d="M1053,1515 H2990 M1053,1991 H2990" stroke="#c9d7ea" stroke-width="3"/>
<path d="M1789,1530 V1970" stroke="#d6e2f0" stroke-width="3"/>
<g class="c n" font-size="50">
<text x="1065" y="1583" textLength="646" lengthAdjust="spacingAndGlyphs">Simulation particle sampling</text>
<text x="1824" y="1583" textLength="1141" lengthAdjust="spacingAndGlyphs">Surface particle detection for simulating tension</text>
<text x="1370" y="1745" textLength="60" lengthAdjust="spacingAndGlyphs">vs.</text>
<text x="2345" y="1774" font-size="52" textLength="429" lengthAdjust="spacingAndGlyphs">Normal calculation</text>
<text x="1077" y="2061" textLength="332" lengthAdjust="spacingAndGlyphs">GSP rendering</text>
</g>
<svg x="1090" y="1606" width="212" height="263" viewBox="0 0 100 100" preserveAspectRatio="none">
<rect width="100" height="100" fill="#3c3c3c"/>
<path d="M34,45 L36,14 C44,3 68,3 76,14 L78,45Z" fill="#8a8a8a" stroke="#d8d8d8" stroke-width="1"/>
<path d="M20,42 C14,34 26,30 34,36 M92,42 C96,34 86,30 78,36" stroke="#ccc" stroke-width="3" fill="none"/>
<ellipse cx="52" cy="49" rx="38" ry="7" fill="#f2efe7"/>
<rect x="14" y="49" width="76" height="14" fill="#e6e2d8"/>
<path d="M18,63 L22,92 M86,63 L82,92 M34,64 L36,88 M70,64 L68,88" stroke="#bdbdbd" stroke-width="2.5"/>
</svg>
<svg x="1482" y="1605" width="213" height="261" viewBox="0 0 100 100" preserveAspectRatio="none">
<rect width="100" height="100" fill="#3c3c3c"/>
<path d="M34,45 L36,14 C44,3 68,3 76,14 L78,45Z" fill="#b0a898"/>
<path d="M20,42 C14,34 26,30 34,36 M92,42 C96,34 86,30 78,36" stroke="#c8c0b0" stroke-width="3" fill="none"/>
<ellipse cx="52" cy="49" rx="38" ry="7" fill="#d8d2c4"/>
<rect x="14" y="49" width="76" height="12" fill="#a8a090"/>
<path d="M18,61 L22,92 M86,61 L82,92 M34,62 L36,88 M70,62 L68,88" stroke="#9a9488" stroke-width="2.5" stroke-dasharray="2 1.5"/>
</svg>
<g class="r" font-size="34" fill="#000">
<text x="1065" y="1909" textLength="275" lengthAdjust="spacingAndGlyphs">uniformly sample</text>
<text x="1090" y="1953" textLength="225" lengthAdjust="spacingAndGlyphs">within NeuS<tspan font-size="22" dy="-14">[5]</tspan></text>
<text x="1482" y="1903" textLength="225" lengthAdjust="spacingAndGlyphs">internal filling</text>
<text x="1452" y="1950" textLength="282" lengthAdjust="spacingAndGlyphs">using Gaussians<tspan font-size="22" dy="-14">[4]</tspan></text>
</g>

<!-- particle diagram -->
<circle cx="1982" cy="1768" r="141" fill="#fff" stroke="#d9d9d9" stroke-width="12"/>
<path d="M1982,1768 L1849,1800 A136,136 0 0 0 2118,1758 Z" fill="#fdf1b8"/>
<path d="M1982,1768 L1881,1677 A136,136 0 0 1 1935,1645 Z" fill="#fdf1b8"/>
<path d="M1849,1800 A136,136 0 0 1 2118,1758" fill="none" stroke="#1f2a50" stroke-width="3"/>
<path d="M1849,1800 A136,136 0 0 0 2118,1758" fill="none" stroke="#f08a3c" stroke-width="5"/>
<path d="M1881,1677 A136,136 0 0 1 1935,1645" fill="none" stroke="#f08a3c" stroke-width="5"/>
<path d="M1982,1768 L1849,1800 M1982,1768 L2118,1758 M1982,1768 L1881,1677 M1982,1768 L1935,1645" stroke="#f08a3c" stroke-width="4" stroke-dasharray="4 4"/>
<g fill="url(#gNb)" stroke="#a4ae58" stroke-width="2">
<circle cx="1924" cy="1686" r="23"/><circle cx="1918" cy="1810" r="23"/><circle cx="2044" cy="1788" r="23"/><circle cx="1990" cy="1830" r="23"/><circle cx="2054" cy="1845" r="23"/><circle cx="1935" cy="1866" r="23"/>
</g>
<g fill="url(#gNbo)" stroke="#4a7a30" stroke-width="2">
<circle cx="1840" cy="1794" r="23"/><circle cx="2115" cy="1825" r="23"/><circle cx="2019" cy="1909" r="23"/>
</g>
<circle cx="1981" cy="1767" r="23" fill="url(#gPart)" stroke="#2a4a90" stroke-width="2"/>
<path d="M1916,1651 L1970,1651" stroke="#c0601a" stroke-width="1.5"/>
<path d="M2076,1712 L2118,1783" stroke="#c0601a" stroke-width="1.5"/>
<path d="M2001,1755 L2019,1743" stroke="#2e4f9c" stroke-width="1.5"/>
<text transform="translate(1972,1646) rotate(29)" class="r" font-size="20" fill="#c0601a" textLength="128" lengthAdjust="spacingAndGlyphs">Projection area</text>
<text x="1986" y="1736" class="r" font-size="22" fill="#2e4f9c">Particle</text>
<text transform="translate(1842,1748) rotate(-78)" class="r" font-size="20" fill="#888">Screen</text>
<text x="1965" y="1873" class="r" font-size="22" fill="#2a4a1a">Neighbors</text>
<text x="2170" y="1668" class="s" font-size="42" fill="#1aa7ec" textLength="770" lengthAdjust="spacingAndGlyphs">If a particle is occluded by its neighbors</text>
<text x="2267" y="1867" class="r i" font-size="50" textLength="578" lengthAdjust="spacingAndGlyphs"><tspan font-weight="bold">n</tspan><tspan font-size="30" dy="8">i</tspan><tspan dy="-8" font-style="normal"> = normalize(−∇</tspan><tspan font-size="30" dy="10" font-weight="bold">pᵢ</tspan><tspan dy="-10">C</tspan><tspan font-size="30" dy="10">i</tspan><tspan font-size="30" dx="-8" dy="-32">ρ</tspan><tspan dy="22" font-style="normal">)</tspan></text>

<!-- GSP rendering -->
<g class="s" font-size="44">
<text x="2227" y="2061" fill="#000" textLength="300" lengthAdjust="spacingAndGlyphs">a. Final result</text>
<text x="2586" y="2061" fill="#262626" textLength="394" lengthAdjust="spacingAndGlyphs">b. Solid rendering</text>
<text x="2230" y="2143" fill="#5b9bd5" textLength="722" lengthAdjust="spacingAndGlyphs">c. Fluid rendering based on PBR</text>
<text x="2234" y="2231" fill="#548235" textLength="734" lengthAdjust="spacingAndGlyphs">d. Thickness by additive splatting</text>
<text x="2236" y="2314" fill="#a6a6a6" textLength="404" lengthAdjust="spacingAndGlyphs">e. Normal of fluids</text>
<text x="2715" y="2314" fill="#8faadc" textLength="153" lengthAdjust="spacingAndGlyphs">f. foam</text>
</g>
<svg x="1061" y="2114" width="248" height="175" viewBox="0 0 100 70" preserveAspectRatio="none">
<rect width="100" height="70" fill="#a2a6ac"/>
<path d="M0,8 L40,7 L55,20 L64,38 L60,52 L0,66Z" fill="url(#gCliff)"/>
<path d="M0,70 L58,50 L65,38 L100,36 L100,70Z" fill="#cdd2d6"/>
<path d="M30,70 L62,54 L100,58 L100,70Z" fill="#4a6078"/>
</svg>
<svg x="1367" y="2114" width="248" height="175" viewBox="0 0 100 70" preserveAspectRatio="none">
<rect width="100" height="70" fill="#a2a6ac"/>
<path d="M0,8 L40,7 L55,20 L64,38 L60,52 L0,66Z" fill="url(#gCliff)"/>
<path d="M0,70 L58,50 L65,38 L100,36 L100,70Z" fill="#cdd2d6"/>
</svg>
<path d="M1427,2116 L1475,2116 L1557,2287 L1482,2287 Z" fill="#6a6a6a" stroke="#e8a020" stroke-width="4"/>
<path d="M1440,2140 L1470,2150 M1450,2180 L1500,2200 M1465,2230 L1520,2250" stroke="#ddd" stroke-width="3"/>
<g class="r" font-size="36" fill="#fff"><text x="1258" y="2160">(a)</text><text x="1563" y="2160">(b)</text><text x="1955" y="2243">(f)</text></g>
<text x="1316" y="2218" class="s" font-size="60">=</text>
<circle cx="1649" cy="2208" r="22" fill="none" stroke="#000" stroke-width="4"/>
<path d="M1627,2208 H1671 M1649,2186 V2230" stroke="#000" stroke-width="4"/>
<path d="M1715,2117 C1690,2160 1690,2250 1715,2296" fill="none" stroke="#000" stroke-width="4"/>
<path d="M2178,2117 C2203,2160 2203,2250 2178,2296" fill="none" stroke="#000" stroke-width="4"/>
<svg x="1730" y="2117" width="216" height="85" viewBox="0 0 100 100" preserveAspectRatio="none">
<rect width="100" height="100" fill="#fff"/>
<path d="M40,10 L100,5 L100,100 L0,100 L0,75 L45,60 L52,40Z" fill="#4e6276"/>
<path d="M60,10 L100,8 L100,30 L70,35Z" fill="#7a8ea0"/>
</svg>
<svg x="1949" y="2117" width="212" height="85" viewBox="0 0 100 100" preserveAspectRatio="none">
<rect width="100" height="100" fill="url(#gThick)"/>
<path d="M50,0 L100,0 L100,45 C80,30 60,30 52,20Z" fill="#111"/>
</svg>
<svg x="1730" y="2202" width="216" height="88" viewBox="0 0 100 100" preserveAspectRatio="none">
<rect width="100" height="100" fill="#fff"/>
<path d="M0,55 L30,40 L55,30 L55,100 L0,100Z" fill="#7b7bf0"/>
<ellipse cx="40" cy="35" rx="8" ry="6" fill="#e84040"/>
<path d="M44,0 L80,0 L100,100 L58,100Z" fill="#8a8a8a" stroke="#e8a020" stroke-width="2"/>
</svg>
<svg x="1949" y="2202" width="212" height="88" viewBox="0 0 100 100" preserveAspectRatio="none">
<rect width="100" height="100" fill="#050505"/>
<path d="M50,0 L100,0 L100,100 L0,100 L10,70 L40,50 L55,20Z" fill="#9a9a9a"/>
<path d="M60,10 L100,5 L100,40 L70,40Z M20,80 L60,60 L90,90 L30,98Z" fill="#e8e8e8"/>
</svg>
<g class="r" font-size="36" fill="#000"><text x="1737" y="2158">(c)</text><text x="1955" y="2158">(d)</text><text x="1737" y="2243">(e)</text></g>

<!-- RESULT -->
<path d="M4106,427 V1355" stroke="#d6e0ee" stroke-width="3"/>
<g class="c" font-size="52" fill="#000">
<text x="3088" y="474" textLength="236" lengthAdjust="spacingAndGlyphs">Inpainting</text>
<text x="4144" y="474" textLength="334" lengthAdjust="spacingAndGlyphs">Ablation study</text>
<text x="3088" y="936" textLength="745" lengthAdjust="spacingAndGlyphs">Comparison with PhysGaussian<tspan font-size="32" dy="-22">[4]</tspan></text>
<text x="3073" y="1409" textLength="998" lengthAdjust="spacingAndGlyphs">Two-way coupling between solids and fluids</text>
</g>
<svg x="3067" y="501" width="323" height="323" viewBox="0 0 100 100" preserveAspectRatio="none"><use href="#tbl"/><use href="#cup"/><use href="#dog" fill="#a8702e"/></svg>
<svg x="3404" y="501" width="323" height="323" viewBox="0 0 100 100" preserveAspectRatio="none"><use href="#tbl"/><path d="M42,48 L50,44 L56,50 L52,58 L44,56Z" fill="#fff"/><circle cx="48" cy="52" r="2" fill="#111"/><circle cx="56" cy="46" r="2.5" fill="#111"/><circle cx="44" cy="58" r="1.5" fill="#8a5a2a"/></svg>
<svg x="3740" y="501" width="326" height="323" viewBox="0 0 100 100" preserveAspectRatio="none"><use href="#tbl"/><path d="M38,52 C42,40 58,40 68,48 C64,58 48,62 38,52Z" fill="#f6f6f6"/></svg>
<circle cx="3599" cy="685" r="82" fill="none" stroke="#e01010" stroke-width="4"/>
<g class="r" font-size="34" fill="#111" text-anchor="middle">
<text x="3221" y="855">Input</text>
<text x="3564" y="855">w/o inpainting</text>
<text x="3897" y="855">w/ inpainting</text>
<text x="4278" y="814">w/o specular</text>
<text x="4597" y="814">w/ specular</text>
<text x="4285" y="1096">w/o shadow map</text>
<text x="4603" y="1096">w/ shadow map</text>
<text x="4280" y="1372">w/o anisotropy reg</text>
<text x="4614" y="1372">w/ anisotropy reg</text>
<text transform="translate(3086,1055) rotate(-90)">PhysGS</text>
<text transform="translate(3086,1231) rotate(-90)">Ours</text>
</g>
<svg x="4118" y="496" width="313" height="286" viewBox="0 0 100 100" preserveAspectRatio="none"><use href="#abl"/></svg>
<svg x="4431" y="496" width="320" height="286" viewBox="0 0 100 100" preserveAspectRatio="none"><use href="#abl"/><path d="M0,24 L100,24 L100,100 L0,100Z" fill="#5a9088" opacity=".55"/><path d="M5,40 C20,35 30,45 45,38 M60,70 C70,64 85,72 98,66 M10,80 C25,74 35,84 50,78" stroke="#bfe0c8" stroke-width="2" fill="none"/><ellipse cx="50" cy="55" rx="22" ry="11" fill="#a88868"/><rect x="48.5" y="33" width="3" height="21" fill="#6a4a2a"/></svg>
<svg x="4124" y="846" width="313" height="210" viewBox="0 0 100 67" preserveAspectRatio="none"><use href="#shd"/></svg>
<svg x="4443" y="846" width="313" height="210" viewBox="0 0 100 67" preserveAspectRatio="none"><use href="#shd"/></svg>
<!-- anisotropy -->
<g>
<path d="M4180,1205 C4170,1180 4190,1160 4205,1180 L4215,1245 L4245,1245 L4245,1270 L4200,1275 Z" fill="#5f9a44"/>
<path d="M4200,1275 L4195,1320 M4240,1272 L4248,1318" stroke="#8a7a60" stroke-width="4"/>
<rect x="4287" y="1114" width="72" height="80" fill="#8ab860" stroke="#d01010" stroke-width="3"/>
<rect x="4287" y="1114" width="40" height="30" fill="#f4f4f4"/>
<rect x="4213" y="1193" width="42" height="44" fill="none" stroke="#d01010" stroke-width="3"/>
<rect x="4215" y="1270" width="42" height="42" fill="none" stroke="#d01010" stroke-width="3"/>
<rect x="4287" y="1233" width="72" height="94" fill="#fff" stroke="#d01010" stroke-width="3"/>
<path d="M4310,1245 L4330,1300" stroke="#6a5a48" stroke-width="6"/>
<path d="M4490,1205 C4480,1180 4500,1160 4515,1180 L4525,1245 L4555,1245 L4555,1270 L4510,1275 Z" fill="#5f9a44"/>
<path d="M4510,1275 L4505,1320 M4550,1272 L4558,1318" stroke="#8a7a60" stroke-width="4"/>
<rect x="4597" y="1114" width="72" height="80" fill="#9ac070" stroke="#d01010" stroke-width="3"/>
<rect x="4597" y="1114" width="30" height="40" fill="#f4f4f4"/>
<rect x="4523" y="1193" width="42" height="44" fill="none" stroke="#d01010" stroke-width="3"/>
<rect x="4525" y="1270" width="42" height="42" fill="none" stroke="#d01010" stroke-width="3"/>
<rect x="4597" y="1233" width="72" height="94" fill="#fff" stroke="#d01010" stroke-width="3"/>
<path d="M4620,1245 L4640,1300" stroke="#6a5a48" stroke-width="6"/>
</g>
<!-- plates -->
<svg x="3096" y="966" width="177" height="174" viewBox="0 0 100 100" preserveAspectRatio="none"><use href="#plate"/></svg>
<svg x="3299" y="966" width="180" height="174" viewBox="0 0 100 100" preserveAspectRatio="none"><use href="#plate"/><ellipse cx="55" cy="42" rx="32" ry="26" fill="#d08a38" opacity=".55"/></svg>
<svg x="3505" y="966" width="177" height="174" viewBox="0 0 100 100" preserveAspectRatio="none"><use href="#plate"/><ellipse cx="52" cy="46" rx="42" ry="40" fill="#cf7f30" opacity=".8"/><path d="M30,60 L70,25" stroke="#b04a2a" stroke-width="5"/></svg>
<svg x="3709" y="966" width="188" height="174" viewBox="0 0 100 100" preserveAspectRatio="none"><use href="#plate"/><ellipse cx="52" cy="46" rx="47" ry="44" fill="#c8742a" opacity=".9"/><path d="M25,65 L75,25" stroke="#a8402a" stroke-width="5"/></svg>
<svg x="3903" y="966" width="203" height="174" viewBox="0 0 100 100" preserveAspectRatio="none"><use href="#plate"/><ellipse cx="52" cy="48" rx="49" ry="48" fill="#c06a28" opacity=".92"/><path d="M25,65 L75,25" stroke="#a03a28" stroke-width="5"/></svg>
<svg x="3096" y="1151" width="177" height="164" viewBox="0 0 100 100" preserveAspectRatio="none"><use href="#plate"/></svg>
<svg x="3299" y="1151" width="180" height="164" viewBox="0 0 100 100" preserveAspectRatio="none"><use href="#plate"/><path d="M15,25 C30,5 80,10 85,40 C90,70 70,85 50,80 C30,90 10,60 15,25Z" fill="#d4d4ce"/></svg>
<svg x="3505" y="1151" width="177" height="164" viewBox="0 0 100 100" preserveAspectRatio="none"><use href="#plate"/><ellipse cx="50" cy="50" rx="44" ry="42" fill="#dcdcd6"/></svg>
<svg x="3709" y="1151" width="188" height="164" viewBox="0 0 100 100" preserveAspectRatio="none"><use href="#plate"/><ellipse cx="50" cy="48" rx="46" ry="44" fill="#e0e0da"/></svg>
<svg x="3903" y="1151" width="203" height="164" viewBox="0 0 100 100" preserveAspectRatio="none"><use href="#plate"/><ellipse cx="50" cy="48" rx="48" ry="46" fill="#e6e6e0" opacity=".9"/></svg>

<!-- two-way cliffs -->
<svg x="3054" y="1441" width="335" height="235" viewBox="0 0 100 70" preserveAspectRatio="none"><use href="#cliff"/><path d="M26,70 L50,54 L61,40 L64,41 L57,57 L42,70Z" fill="#eef2f4"/><path d="M20,70 L44,60" stroke="#dfe6ea" stroke-width="2"/></svg>
<svg x="3389" y="1441" width="335" height="235" viewBox="0 0 100 70" preserveAspectRatio="none"><use href="#cliff"/><ellipse cx="52" cy="44" rx="22" ry="20" fill="#5f7e98"/><path d="M30,64 C32,40 45,28 60,18 C70,13 72,26 66,40 C62,55 50,62 30,64Z" fill="#e8eef2" opacity=".8"/><path d="M0,62 C10,55 20,58 30,64 L0,70Z" fill="#e8eef2" opacity=".8"/></svg>
<svg x="3724" y="1441" width="335" height="235" viewBox="0 0 100 70" preserveAspectRatio="none"><use href="#cliff"/><path d="M0,70 L10,58 L40,50 L60,36 L75,38 L100,48 L100,70Z" fill="#4e6376"/><path d="M5,62 L40,52 M50,45 L70,40 M60,60 L95,55 M0,68 L30,64" stroke="#f0f4f6" stroke-width="3"/></svg>
<svg x="4059" y="1441" width="335" height="235" viewBox="0 0 100 70" preserveAspectRatio="none"><use href="#cliff"/><path d="M0,70 L0,50 L30,45 L55,38 L80,40 L100,48 L100,70Z" fill="#3f5568"/><path d="M2,52 L50,42 L80,44 M60,30 L64,40" stroke="#f0f4f6" stroke-width="4" fill="none"/></svg>
<svg x="4394" y="1441" width="335" height="235" viewBox="0 0 100 70" preserveAspectRatio="none"><use href="#cliff"/><path d="M0,70 L0,60 L40,48 L65,40 L100,40 L100,70Z" fill="#596d80"/><path d="M60,42 L100,40 M5,62 L40,52 M0,68 L25,62" stroke="#eef2f4" stroke-width="4"/></svg>
<!-- two-way tables -->
<svg x="3054" y="1684" width="335" height="335" viewBox="0 0 100 100" preserveAspectRatio="none"><use href="#tbl"/><use href="#cup"/><use href="#dog" fill="#a8702e"/></svg>
<svg x="3389" y="1684" width="335" height="335" viewBox="0 0 100 100" preserveAspectRatio="none"><use href="#tbl"/><use href="#cup"/><use href="#dog" fill="#a8702e"/><path d="M20,0 L38,42" stroke="#8ab4d8" stroke-width="4"/></svg>
<svg x="3724" y="1684" width="335" height="335" viewBox="0 0 100 100" preserveAspectRatio="none"><use href="#tbl"/><use href="#cup"/><use href="#dog" fill="#4a8ad0"/></svg>
<svg x="4059" y="1684" width="335" height="335" viewBox="0 0 100 100" preserveAspectRatio="none"><use href="#tbl"/><path d="M2,70 C20,45 60,50 95,70 L90,95 L10,95Z" fill="#a8c8e0" opacity=".6"/><path d="M40,30 L56,30 L54,62 L44,62Z" fill="#5aa0d8"/></svg>
<svg x="4394" y="1684" width="335" height="335" viewBox="0 0 100 100" preserveAspectRatio="none"><use href="#tbl"/><ellipse cx="52" cy="68" rx="43" ry="26" fill="#a8c4d8"/><ellipse cx="50" cy="62" rx="18" ry="10" fill="#6a9cd0" opacity=".7"/></svg>

<!-- REFERENCE -->
<text x="3047" y="2114" class="s" font-size="40" font-weight="bold" textLength="214" lengthAdjust="spacingAndGlyphs">Reference</text>
<g class="s" font-size="30" fill="#000">
<text x="3047" y="2157" textLength="1680" lengthAdjust="spacingAndGlyphs">[1] Liang et al., GauFRe: Gaussian Deformation Fields for Real-time Dynamic Novel View Synthesis. WACV 2025.</text>
<text x="3047" y="2199" textLength="1347" lengthAdjust="spacingAndGlyphs">[2] Wu et al., 4D Gaussian Splatting for Real-Time Dynamic Scene Rendering. CVPR 2024.</text>
<text x="3047" y="2241" textLength="1544" lengthAdjust="spacingAndGlyphs">[3] Xu et al., Gaussian Head Avatar: Ultra High-fidelity Head Avatar via Dynamic Gaussians. CVPR 2024.</text>
<text x="3047" y="2283" textLength="1500" lengthAdjust="spacingAndGlyphs">[4] Xie et al., PhysGaussian: Physics-Integrated 3D Gaussians for Generative Dynamics. CVPR 2024.</text>
<text x="3047" y="2325" textLength="1735" lengthAdjust="spacingAndGlyphs">[5] Wang et al., NeuS: Learning Neural Implicit Surfaces by Volume Rendering for Multi-view Reconstruction. NeurIPS</text>
<text x="3047" y="2367" textLength="81" lengthAdjust="spacingAndGlyphs">2021.</text>
</g>
</svg>
</body></html>
